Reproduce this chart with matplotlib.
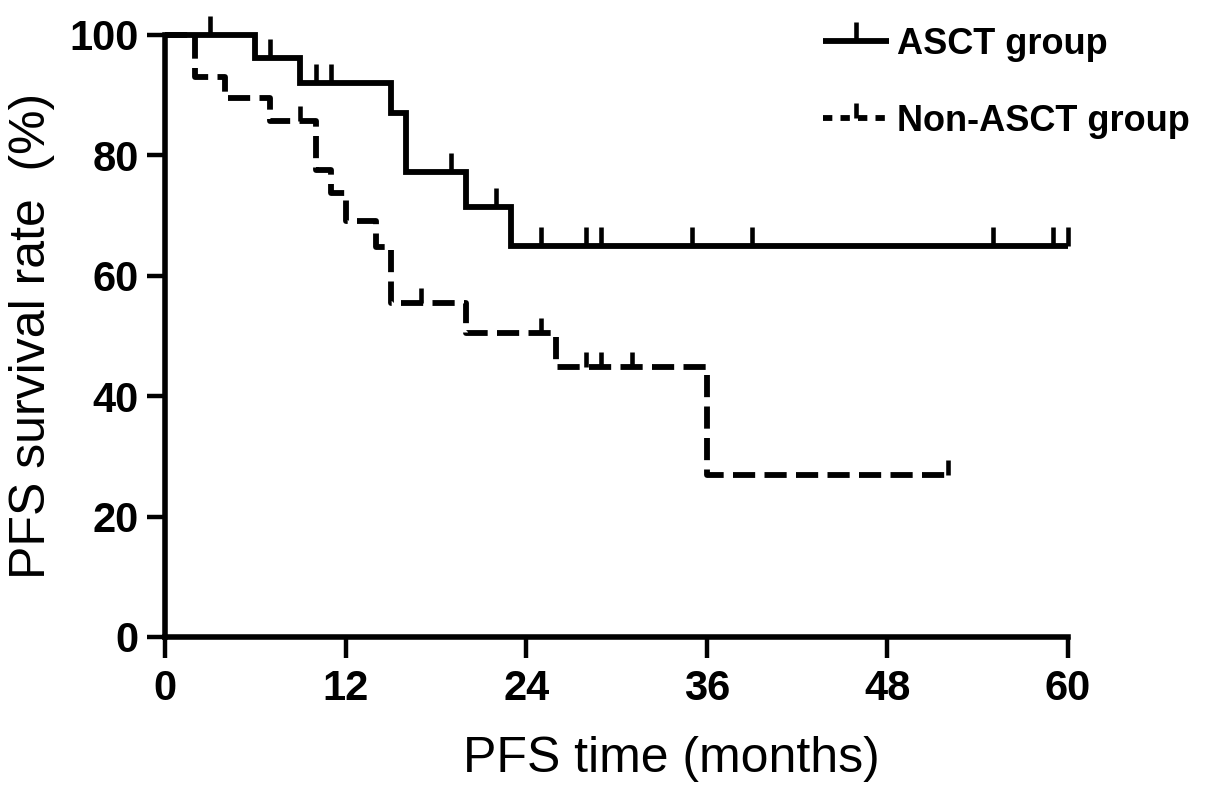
import numpy as np
import matplotlib
matplotlib.use("Agg")
import matplotlib.pyplot as plt
from matplotlib.lines import Line2D
from matplotlib.markers import TICKUP

# ---- data ----
asct_time = [0, 6, 9, 15, 16, 20, 23, 60]
asct_surv = [100, 96.2, 92.1, 87.0, 77.3, 71.5, 64.9, 64.9]
asct_censor = [3, 7, 10, 11, 19, 22, 25, 28, 29, 35, 39, 55, 59, 60]

non_time = [0, 2, 4, 7, 10, 11, 12, 14, 15, 20, 26, 36, 52]
non_surv = [100, 93.0, 89.5, 85.7, 77.6, 73.7, 69.1, 64.8, 55.5, 50.5, 44.9, 26.9, 26.9]
non_censor = [9, 17, 25, 28, 29, 31, 52]

x_ticks = [0, 12, 24, 36, 48, 60]
y_ticks = [0, 20, 40, 60, 80, 100]
labels = ["ASCT group", "Non-ASCT group"]

plt.rcParams['font.family'] = ['Liberation Sans', 'DejaVu Sans']

def step_value(times, surv, t):
    idx = np.searchsorted(np.asarray(times), t, side='right') - 1
    return np.asarray(surv)[idx]

fig = plt.figure(figsize=(12.05, 7.96), dpi=100)
ax = fig.add_axes([165/1205, 1-637/796, (1068-165)/1205, (637-35)/796])

lw = 4.2
mew = 3.3
dash = (3.8, 1.6)

ax.plot(asct_time, asct_surv, drawstyle='steps-post', color='black', lw=lw,
        clip_on=False, solid_capstyle='butt', solid_joinstyle='miter')
ax.plot(asct_censor, [step_value(asct_time, asct_surv, t) for t in asct_censor],
        linestyle='none', marker=TICKUP, markersize=14, markeredgewidth=mew,
        color='black', clip_on=False)

ax.plot(non_time, non_surv, drawstyle='steps-post', color='black', lw=lw,
        dashes=dash, clip_on=False)
ax.plot(non_censor, [step_value(non_time, non_surv, t) for t in non_censor],
        linestyle='none', marker=TICKUP, markersize=11, markeredgewidth=mew,
        color='black', clip_on=False)

ax.set_xlim(0, 60)
ax.set_ylim(0, 100)
ax.set_xticks(x_ticks)
ax.set_yticks(y_ticks)
for s in ['top', 'right']:
    ax.spines[s].set_visible(False)
for s in ['left', 'bottom']:
    ax.spines[s].set_linewidth(4.0)
ax.tick_params(axis='x', length=15, width=3.2, pad=8)
ax.tick_params(axis='y', length=13, width=3.2, pad=6)
for lab in ax.get_xticklabels() + ax.get_yticklabels():
    lab.set_fontsize(30)
    lab.set_fontweight('bold')

ax.set_xlabel("PFS time (months)", fontsize=36)
ax.xaxis.set_label_coords((671-165)/903, -0.165)
ax.set_ylabel("PFS survival rate  (%)", fontsize=36, labelpad=10)

handles = [
    Line2D([], [], color='black', lw=lw, marker=TICKUP, markersize=14,
           markeredgewidth=mew, solid_capstyle='butt'),
    Line2D([], [], color='black', lw=lw, dashes=(1.6, 1.4), marker=TICKUP,
           markersize=11, markeredgewidth=mew),
]
leg = fig.legend(handles, labels, loc='upper left',
                 bbox_to_anchor=(823/1205, 1-27/796), frameon=False,
                 borderpad=0, borderaxespad=0, handlelength=1.84,
                 handletextpad=0.2, labelspacing=1.15, numpoints=1,
                 prop={'size': 26, 'weight': 'bold'})

fig.savefig("out.png", dpi=100)
